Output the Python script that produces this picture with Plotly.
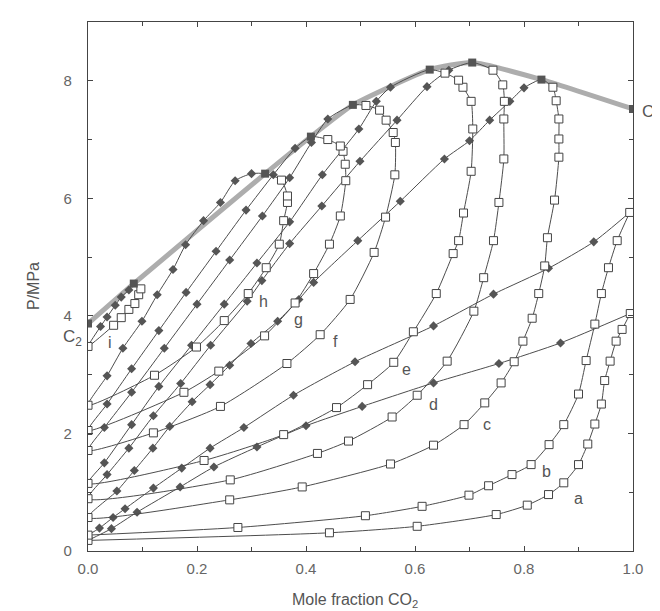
import plotly.graph_objects as go

# ---- data (mole fraction CO2, pressure MPa) ----
a_bub_x = [0, 0.043, 0.09, 0.169, 0.231, 0.31, 0.40, 0.503, 0.634, 0.754, 0.867, 0.995]
a_bub_p = [0.18, 0.38, 0.66, 1.09, 1.43, 1.77, 2.13, 2.46, 2.86, 3.19, 3.54, 4.04]
a_dew_x = [0, 0.443, 0.604, 0.749, 0.806, 0.845, 0.873, 0.9, 0.917, 0.93, 0.942, 0.948, 0.958, 0.969, 0.98, 0.995]
a_dew_p = [0.18, 0.31, 0.42, 0.62, 0.78, 0.96, 1.16, 1.47, 1.82, 2.16, 2.50, 2.90, 3.23, 3.57, 3.77, 4.04]

b_bub_x = [0, 0.021, 0.046, 0.068, 0.12, 0.172, 0.224, 0.286, 0.377, 0.49, 0.634, 0.744, 0.845, 0.928, 0.994]
b_bub_p = [0.27, 0.39, 0.57, 0.72, 1.07, 1.41, 1.75, 2.10, 2.65, 3.22, 3.83, 4.37, 4.81, 5.26, 5.76]
b_dew_x = [0, 0.275, 0.509, 0.613, 0.699, 0.735, 0.778, 0.813, 0.846, 0.873, 0.9, 0.914, 0.93, 0.942, 0.955, 0.971, 0.994]
b_dew_p = [0.27, 0.40, 0.60, 0.76, 0.95, 1.11, 1.30, 1.47, 1.81, 2.15, 2.67, 3.24, 3.86, 4.38, 4.82, 5.28, 5.76]

c_bub_x = [0, 0.053, 0.085, 0.119, 0.15, 0.191, 0.224, 0.26, 0.299, 0.348, 0.387, 0.414, 0.495, 0.573, 0.654, 0.70, 0.737, 0.774, 0.80]
c_bub_p = [0.57, 1.02, 1.37, 1.75, 2.12, 2.54, 2.83, 3.16, 3.53, 3.91, 4.28, 4.57, 5.28, 5.95, 6.67, 6.98, 7.33, 7.65, 7.88]
c_dew_x = [0, 0.26, 0.393, 0.555, 0.634, 0.69, 0.728, 0.758, 0.782, 0.798, 0.815, 0.827, 0.838, 0.843, 0.856, 0.864, 0.864, 0.864, 0.859, 0.853]
c_dew_p = [0.57, 0.87, 1.09, 1.48, 1.80, 2.15, 2.52, 2.86, 3.22, 3.57, 3.96, 4.38, 4.85, 5.33, 5.97, 6.70, 7.01, 7.35, 7.66, 7.89]

d_bub_x = [0, 0.035, 0.075, 0.12, 0.17, 0.225, 0.292, 0.319, 0.37, 0.429, 0.499, 0.567, 0.622, 0.662]
d_bub_p = [0.89, 1.30, 1.75, 2.30, 2.85, 3.50, 4.25, 4.60, 5.23, 5.87, 6.63, 7.33, 7.90, 8.18]
d_dew_x = [0, 0.261, 0.421, 0.478, 0.558, 0.604, 0.659, 0.708, 0.726, 0.744, 0.754, 0.763, 0.763, 0.764, 0.761, 0.743]
d_dew_p = [0.89, 1.21, 1.66, 1.87, 2.28, 2.65, 3.23, 4.08, 4.65, 5.28, 5.93, 6.67, 7.35, 7.65, 7.93, 8.18]

e_bub_x = [0, 0.03, 0.08, 0.13, 0.19, 0.25, 0.31, 0.37, 0.43, 0.497, 0.529, 0.555]
e_bub_p = [1.15, 1.50, 2.15, 2.80, 3.50, 4.20, 4.90, 5.60, 6.40, 7.18, 7.65, 7.89]
e_dew_x = [0, 0.213, 0.359, 0.456, 0.513, 0.561, 0.597, 0.639, 0.67, 0.68, 0.689, 0.703, 0.706, 0.703, 0.688, 0.68, 0.655]
e_dew_p = [1.15, 1.54, 1.98, 2.44, 2.83, 3.21, 3.73, 4.38, 5.06, 5.28, 5.75, 6.46, 7.18, 7.65, 7.89, 8.01, 8.13]

f_bub_x = [0, 0.03, 0.08, 0.14, 0.20, 0.26, 0.32, 0.37, 0.41, 0.44]
f_bub_p = [1.71, 2.10, 2.70, 3.45, 4.20, 4.95, 5.70, 6.35, 6.95, 7.35]
f_dew_x = [0, 0.12, 0.243, 0.365, 0.426, 0.481, 0.525, 0.546, 0.563, 0.564, 0.56, 0.547, 0.535, 0.51]
f_dew_p = [1.71, 2.01, 2.46, 3.19, 3.68, 4.28, 5.08, 5.68, 6.40, 6.95, 7.12, 7.33, 7.50, 7.58]

g_bub_x = [0, 0.035, 0.08, 0.13, 0.18, 0.235, 0.29, 0.34, 0.38]
g_bub_p = [2.05, 2.50, 3.10, 3.75, 4.40, 5.10, 5.80, 6.40, 6.85]
g_dew_x = [0, 0.176, 0.24, 0.324, 0.38, 0.414, 0.443, 0.463, 0.473, 0.472, 0.468, 0.463, 0.44]
g_dew_p = [2.05, 2.70, 3.06, 3.66, 4.22, 4.72, 5.22, 5.70, 6.30, 6.58, 6.80, 6.89, 7.00]

h_bub_x = [0, 0.035, 0.064, 0.099, 0.127, 0.156, 0.179, 0.212, 0.243, 0.27, 0.30]
h_bub_p = [2.48, 2.98, 3.45, 3.91, 4.36, 4.79, 5.21, 5.62, 5.93, 6.30, 6.42]
h_dew_x = [0, 0.122, 0.199, 0.25, 0.294, 0.327, 0.351, 0.359, 0.366, 0.366, 0.355]
h_dew_p = [2.48, 2.99, 3.47, 3.92, 4.38, 4.82, 5.22, 5.62, 5.93, 6.04, 6.31]

i_bub_x = [0, 0.023, 0.035, 0.05, 0.061, 0.075]
i_bub_p = [3.48, 3.82, 3.98, 4.18, 4.32, 4.44]
i_dew_x = [0, 0.047, 0.061, 0.075, 0.086, 0.093, 0.097]
i_dew_p = [3.48, 3.84, 3.97, 4.11, 4.21, 4.36, 4.46]

# critical locus (C2 ... C1); index k is critical point of isotherm i,h,g,f,e,d,c
crit_x = [0.0, 0.084, 0.325, 0.409, 0.486, 0.627, 0.705, 0.832, 1.0]
crit_p = [3.87, 4.55, 6.42, 7.05, 7.59, 8.19, 8.31, 8.02, 7.52]

labels = ["a", "b", "c", "d", "e", "f", "g", "h", "i"]
label_x = [0.90, 0.842, 0.732, 0.634, 0.585, 0.454, 0.387, 0.322, 0.041]
label_p = [0.90, 1.36, 2.15, 2.49, 3.09, 3.57, 3.94, 4.25, 3.55]

x_ticks = [0.0, 0.2, 0.4, 0.6, 0.8, 1.0]
x_ticktext = ["0.0", "0.2", "0.4", "0.6", "0.8", "1.0"]
y_ticks = [0, 2, 4, 6, 8]

X_MAX = 1.0
P_MAX = 9.0

LINE = "#4d4d4d"
FONT = "Liberation Sans"
fig = go.Figure()

# critical locus
fig.add_trace(go.Scatter(x=crit_x, y=crit_p, mode="lines",
                         line=dict(color="#adadad", width=5, shape="spline", smoothing=0.5),
                         hoverinfo="skip", showlegend=False))

isotherms = [
    (a_bub_x, a_bub_p, a_dew_x, a_dew_p, None),
    (b_bub_x, b_bub_p, b_dew_x, b_dew_p, None),
    (c_bub_x, c_bub_p, c_dew_x, c_dew_p, 7),
    (d_bub_x, d_bub_p, d_dew_x, d_dew_p, 6),
    (e_bub_x, e_bub_p, e_dew_x, e_dew_p, 5),
    (f_bub_x, f_bub_p, f_dew_x, f_dew_p, 4),
    (g_bub_x, g_bub_p, g_dew_x, g_dew_p, 3),
    (h_bub_x, h_bub_p, h_dew_x, h_dew_p, 2),
    (i_bub_x, i_bub_p, i_dew_x, i_dew_p, 1),
]

for bx, bp, dx, dp, ci in isotherms:
    if ci is None:
        fig.add_trace(go.Scatter(x=bx, y=bp, mode="lines",
                                 line=dict(color=LINE, width=1, shape="spline", smoothing=0.6),
                                 hoverinfo="skip", showlegend=False))
        fig.add_trace(go.Scatter(x=dx, y=dp, mode="lines",
                                 line=dict(color=LINE, width=1, shape="spline", smoothing=0.6),
                                 hoverinfo="skip", showlegend=False))
        mbx, mbp = bx[1:-1], bp[1:-1]
    else:
        lx = list(bx) + [crit_x[ci]] + list(dx)[::-1]
        lp = list(bp) + [crit_p[ci]] + list(dp)[::-1]
        fig.add_trace(go.Scatter(x=lx, y=lp, mode="lines",
                                 line=dict(color=LINE, width=1, shape="spline", smoothing=0.6),
                                 hoverinfo="skip", showlegend=False))
        mbx, mbp = bx[1:], bp[1:]
    fig.add_trace(go.Scatter(x=mbx, y=mbp, mode="markers",
                             marker=dict(symbol="diamond", size=7, color="#555555",
                                         line=dict(width=0)),
                             hoverinfo="skip", showlegend=False))
    fig.add_trace(go.Scatter(x=dx, y=dp, mode="markers",
                             marker=dict(symbol="square", size=8, color="white",
                                         line=dict(width=1, color="#444444")),
                             hoverinfo="skip", showlegend=False))

# critical points
fig.add_trace(go.Scatter(x=crit_x, y=crit_p, mode="markers",
                         marker=dict(symbol="square", size=8, color="#555555"),
                         hoverinfo="skip", showlegend=False))

for t, lx, lp in zip(labels, label_x, label_p):
    fig.add_annotation(x=lx, y=lp, text=t, showarrow=False,
                       font=dict(size=16, color="#555555", family=FONT))

# component critical point labels (paper coordinates so they may sit outside the axes)
fig.add_annotation(x=-0.007, y=3.62 / P_MAX, xref="paper", yref="paper",
                   text="C<sub>2</sub>", showarrow=False, xanchor="right", yanchor="middle",
                   font=dict(size=17, color="#555555", family=FONT))
fig.add_annotation(x=1.012, y=7.46 / P_MAX, xref="paper", yref="paper",
                   text="C<sub>1</sub>", showarrow=False, xanchor="left", yanchor="middle",
                   font=dict(size=17, color="#555555", family=FONT))

fig.add_annotation(x=0.49, y=-0.094, xref="paper", yref="paper", yanchor="middle",
                   text="Mole fraction CO<sub>2</sub>", showarrow=False,
                   font=dict(size=16, color="#555555", family=FONT))
fig.add_annotation(x=-0.10, y=0.5, xref="paper", yref="paper", textangle=-90,
                   xanchor="center", yanchor="middle",
                   text="P/MPa", showarrow=False,
                   font=dict(size=16, color="#555555", family=FONT))

axis_common = dict(showgrid=False, zeroline=False, showline=True, linecolor="#444444",
                   linewidth=1.2, mirror="ticks", ticks="inside", ticklen=5,
                   tickcolor="#444444", tickfont=dict(size=15, color="#666666", family=FONT))

fig.update_xaxes(range=[0, X_MAX], tickvals=x_ticks, ticktext=x_ticktext,
                 ticklabelstandoff=4,
                 minor=dict(ticks="inside", dtick=0.1, ticklen=4, tickcolor="#444444"),
                 **axis_common)
fig.update_yaxes(range=[0, P_MAX], tickvals=y_ticks, ticklabelstandoff=12,
                 minor=dict(ticks="inside", dtick=1, ticklen=4, tickcolor="#444444"),
                 **axis_common)

fig.update_layout(width=660, height=611, plot_bgcolor="white", paper_bgcolor="white",
                  margin=dict(l=80, r=35, t=14, b=68), showlegend=False,
                  font=dict(family=FONT))

fig.write_html("out.html")
